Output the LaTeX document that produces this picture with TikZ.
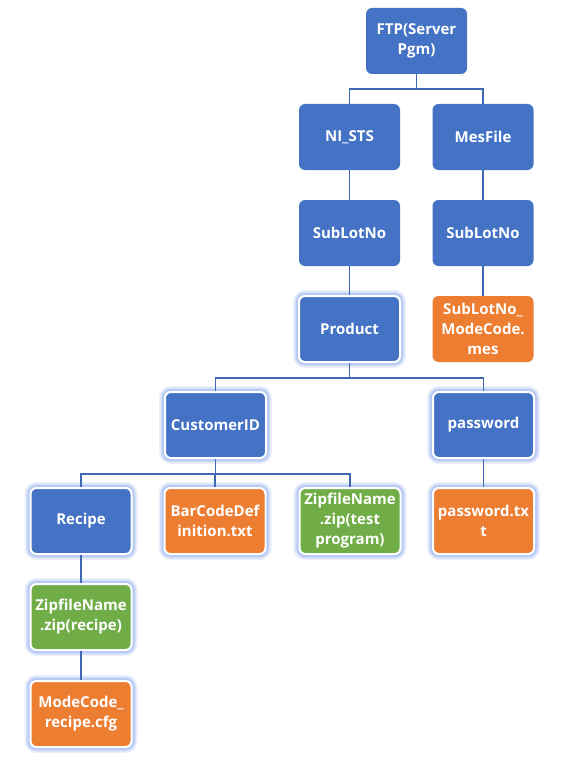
\documentclass[tikz,border=0pt]{standalone}
\usepackage{fontspec}
\setmainfont{Open Sans}[BoldFont={Open Sans Bold}]
\definecolor{cblue}{HTML}{4472C4}
\definecolor{corange}{HTML}{ED7D31}
\definecolor{cgreen}{HTML}{70AD47}
\definecolor{cline}{HTML}{4067B4}
\definecolor{cglow}{HTML}{9DB7F0}
\tikzset{
  x=1pt,y=1pt,
  box/.style={rectangle, rounded corners=6pt, minimum width=101pt, minimum height=66pt,
    text width=100pt, align=center, inner sep=0pt, text=white,
    font=\bfseries\fontsize{15}{20}\selectfont},
  bluebox/.style={box, fill=cblue},
  orangebox/.style={box, fill=corange},
  greenbox/.style={box, fill=cgreen},
  glow/.style={draw=white, line width=2pt,
    preaction={draw=cglow, line width=12pt, opacity=0.2},
    preaction={draw=cglow, line width=9pt, opacity=0.3},
    preaction={draw=cglow, line width=6pt, opacity=0.5}},
  conn/.style={draw=cline, line width=1.8pt},
}
\begin{document}
\begin{tikzpicture}
\useasboundingbox (0,0) rectangle (564,-765);
\fill[white] (0,0) rectangle (564,-765);
% row 1
\node[bluebox] (ftp) at (416.5,-41) {FTP(Server\\Pgm)};
% row 2
\node[bluebox] (nists) at (349.5,-137) {NI\_STS};
\node[bluebox] (mes) at (483,-137) {MesFile};
% row 3
\node[bluebox] (sub1) at (349.5,-233) {SubLotNo};
\node[bluebox] (sub2) at (483,-233) {SubLotNo};
% row 4
\node[bluebox, glow] (prod) at (349.5,-329) {Product};
\node[orangebox] (submes) at (483,-329) {SubLotNo\_\\ModeCode.\\mes};
% row 5
\node[bluebox, glow] (cust) at (215.5,-425) {CustomerID};
\node[bluebox, glow] (pass) at (483.5,-425) {password};
% row 6
\node[bluebox, glow] (recipe) at (81,-521) {Recipe};
\node[orangebox, glow] (barcode) at (215,-521) {BarCodeDef\\inition.txt};
\node[greenbox, glow] (ziptest) at (350,-521) {ZipfileName\\.zip(test\\program)};
\node[orangebox, glow] (passtxt) at (483.5,-521) {password.tx\\t};
% row 7
\node[greenbox, glow] (ziprec) at (81,-617) {ZipfileName\\.zip(recipe)};
% row 8
\node[orangebox, glow] (modecode) at (81,-714) {ModeCode\_\\recipe.cfg};

% connectors
\path[conn] (ftp.south) -- ++(0,-15) -| (nists.north);
\path[conn] (ftp.south) -- ++(0,-15) -| (mes.north);
\path[conn] (nists.south) -- (sub1.north);
\path[conn] (mes.south) -- (sub2.north);
\path[conn] (sub1.south) -- (prod.north);
\path[conn] (sub2.south) -- (submes.north);
\path[conn] (prod.south) -- ++(0,-15) -| (cust.north);
\path[conn] (prod.south) -- ++(0,-15) -| (pass.north);
\path[conn] (cust.south) -- ++(0,-15) -| (recipe.north);
\path[conn] (cust.south) -- ++(0,-15) -| (barcode.north);
\path[conn] (cust.south) -- ++(0,-15) -| (ziptest.north);
\path[conn] (pass.south) -- (passtxt.north);
\path[conn] (recipe.south) -- (ziprec.north);
\path[conn] (ziprec.south) -- (modecode.north);
\end{tikzpicture}
\end{document}
